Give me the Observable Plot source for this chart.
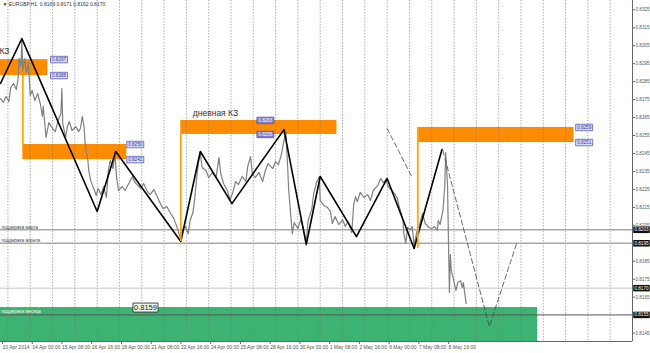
<!DOCTYPE html>
<html><head><meta charset="utf-8">
<script src="https://cdn.jsdelivr.net/npm/d3@7"></script>
<script src="https://cdn.jsdelivr.net/npm/@observablehq/plot@0.6"></script>
<style>html,body{margin:0;padding:0;background:#fff}svg{display:block}</style>
</head><body><div id="chart"></div>
<script>
// ---- data (x = H1 bar index from 14 Apr 2014 00:00, y = EURGBP price) ----
const priceIdx = [-32,-29,-26,-23,-21,-18,-15,-13,-12,-10,-9,-8,-6,-4,-2,0,2,5,8,11,13,14,17,20,24,27,30,33,34,35,38,40,42,45,49,52,54,56,58,59,62,63,65,68,71,73,76,79,82,84,86,89,91,93,95,99,102,106,110,112,115,119,122,126,129,133,137,140,143,147,151,154,157,160,162,164,167,170,172,175,177,179,181,183,185,189,192,196,200,203,205,208,212,215,218,221,224,228,232,234,237,239,242,246,250,253,256,261,264,267,270,273,275,277,278,280,282,284,288,291,294,297,299,303,305,308,311,312,316,320,323,325,328,332,336,339,342,346,348,350,352,355,359,363,366,369,374,377,380,383,385,389,392,395,397,401,402,404,406,409,411,413,416,419,422,425,429,432,435,438,439,441,444,445,446,447,449,450,451,452,453,455,458,460,463,465,466,468,469];
const priceVal = [0.82756,0.82734,0.82767,0.82739,0.82817,0.82840,0.82806,0.82868,0.82979,0.82934,0.83074,0.82912,0.82979,0.82901,0.82957,0.82773,0.82801,0.82745,0.82784,0.82723,0.82656,0.82712,0.82539,0.82622,0.82589,0.82572,0.82634,0.82673,0.82812,0.82617,0.82539,0.82600,0.82628,0.82578,0.82600,0.82572,0.82589,0.82656,0.82595,0.82505,0.82411,0.82355,0.82299,0.82260,0.82216,0.82255,0.82221,0.82266,0.82205,0.82355,0.82411,0.82366,0.82450,0.82311,0.82244,0.82266,0.82244,0.82283,0.82322,0.82294,0.82277,0.82255,0.82283,0.82238,0.82221,0.82249,0.82205,0.82171,0.82143,0.82155,0.82116,0.82093,0.82054,0.82004,0.81971,0.82026,0.82043,0.82004,0.82077,0.82121,0.82199,0.82311,0.82400,0.82450,0.82372,0.82355,0.82316,0.82344,0.82316,0.82427,0.82338,0.82283,0.82244,0.82194,0.82233,0.82294,0.82277,0.82322,0.82294,0.82377,0.82433,0.82338,0.82316,0.82344,0.82294,0.82355,0.82394,0.82366,0.82405,0.82388,0.82439,0.82522,0.82572,0.82372,0.82255,0.82121,0.82004,0.82065,0.82032,0.82082,0.82032,0.81954,0.82077,0.82143,0.82227,0.82288,0.82322,0.82188,0.82160,0.82149,0.82127,0.82060,0.82099,0.82054,0.82082,0.82043,0.82071,0.82010,0.82166,0.82210,0.82182,0.82233,0.82205,0.82221,0.82188,0.82244,0.82272,0.82311,0.82288,0.82305,0.82266,0.82244,0.82227,0.82199,0.82155,0.82077,0.82004,0.81949,0.82038,0.82026,0.82043,0.81937,0.82015,0.82054,0.82116,0.82060,0.82038,0.82032,0.82043,0.82021,0.82077,0.82054,0.82132,0.82199,0.82266,0.82455,0.82272,0.81965,0.81676,0.81887,0.81798,0.81759,0.81687,0.81731,0.81742,0.81703,0.81731,0.81653,0.81614];

const zigIdx = [-32,-9,72,92,162,183,217,273,297,312,351,384,413,443];
const zigVal = [0.82840,0.83090,0.82127,0.82461,0.81960,0.82461,0.82171,0.82583,0.81943,0.82322,0.81987,0.82311,0.81921,0.82472];

const dash1Idx = [384,411];
const dash1Val = [0.82589,0.82316];
const dash2Idx = [444,494,524];
const dash2Val = [0.82467,0.81486,0.81960];

// orange control zones
const zoneX1 = [-32,-8,162,418];
const zoneX2 = [19,104,330,585];
const zoneTop = [0.82973,0.82500,0.82634,0.82595];
const zoneBottom = [0.82884,0.82416,0.82556,0.82511];
const zoneLabelIdx = [31,113,253,596];
const zoneTopLabel = ["0.8297","0.8250","0.8263","0.8259"];
const zoneBottomLabel = ["0.8288","0.8242","0.8256","0.8251"];
const zoneLabelInside = [false,false,true,false];

// orange vertical connectors
const vIdx = [-8,162,417];
const vTop = [0.82884,0.82556,0.82595];
const vBottom = [0.82498,0.81960,0.81921];

// horizontal supports
const supLevels = [0.82025,0.81950];
const supNames = ["поддержка марта","поддержка апреля"];
const bidLevel = 0.81700;
const greenX1 = -32, greenX2 = 546, greenTop = 0.81592, greenLine = 0.81551;
const greenName = "поддержка месяца";
const greenLabel = "0.8159";
const greenLabelIdx = 124;

const axisMarkVals = [0.82025,0.81950,0.81700,0.81551];
const axisMarkText = ["0.8203","0.8195","0.8170","0.8155"];

const yTicks = [0.8325,0.8315,0.8305,0.8295,0.8285,0.8275,0.8265,0.8255,0.8245,0.8235,0.8225,0.8215,0.8205,0.8185,0.8175,0.8165,0.8145];
const dateIdx = [-32,0,32,64,96,128,160,192,224,256,288,320,352,384,416,448];
const dateLabels = ["10 Apr 2014","14 Apr 00:00","15 Apr 08:00","16 Apr 16:00","18 Apr 00:00","21 Apr 08:00","22 Apr 16:00","24 Apr 00:00","25 Apr 08:00","28 Apr 16:00","30 Apr 00:00","1 May 08:00","2 May 16:00","6 May 00:00","7 May 08:00","8 May 16:00"];
const dayIdx = [-24,0,24,48,72,96,120,144,168,192,216,240,264,288,312,336,360,384,408,432,456,480,504,528,552,576,600,624];

const header = "▼ EURGBP,H1  0.8169 0.8171 0.8162 0.8170";

// ---- tables ----
const price = priceIdx.map((x,i)=>({x, y: priceVal[i]})).filter(d=>d.y!==undefined);
const zig = zigIdx.map((x,i)=>({x, y: zigVal[i]}));
const dash1 = dash1Idx.map((x,i)=>({x, y: dash1Val[i]}));
const dash2 = dash2Idx.map((x,i)=>({x, y: dash2Val[i]}));
const zones = zoneX1.map((x1,i)=>({x1, x2: zoneX2[i], y1: zoneBottom[i], y2: zoneTop[i]}));
const zLabels = zoneLabelIdx.flatMap((x,i)=>[
  {x, y: zoneTop[i], t: zoneTopLabel[i], inside: zoneLabelInside[i]},
  {x, y: zoneBottom[i], t: zoneBottomLabel[i], inside: zoneLabelInside[i]}]);
const verts = vIdx.map((x,i)=>({x, y1: vBottom[i], y2: vTop[i]}));
const axMarks = axisMarkVals.map((y,i)=>({y, t: axisMarkText[i]}));
const sups = supLevels.map((y,i)=>({y, t: supNames[i]}));

const X0 = -32, X1 = 648, Y0 = 0.81403, Y1 = 0.83302;
const box = (w,h) => ({draw(ctx){ctx.moveTo(-w/2,-h/2);ctx.lineTo(w/2,-h/2);ctx.lineTo(w/2,h/2);ctx.lineTo(-w/2,h/2);ctx.closePath();}});
const FONT = "'Liberation Sans', Arial, sans-serif";

const chart = Plot.plot({
  width: 650, height: 353,
  marginLeft: 0, marginRight: 18, marginTop: 0, marginBottom: 12,
  x: {domain: [X0, X1]},
  y: {domain: [Y0, Y1]},
  style: {fontFamily: FONT, background: "#fff", overflow: "visible"},
  marks: [
    // green monthly support zone
    Plot.rect([{x1: greenX1, x2: greenX2, y1: Y0, y2: greenTop}], {x1: "x1", x2: "x2", y1: "y1", y2: "y2", fill: "#3cb371"}),
    // orange zones
    Plot.rect(zones, {x1: "x1", x2: "x2", y1: "y1", y2: "y2", fill: "#ff8c00"}),
    // day separators
    Plot.ruleX(dayIdx, {stroke: "#777", strokeWidth: 0.7, strokeDasharray: "1.5,1.5", strokeOpacity: 0.85}),
    // support lines
    Plot.ruleY(supLevels, {stroke: "#a9a9a9", strokeWidth: 1.5}),
    Plot.text(sups, {x: X0, y: "y", text: "t", textAnchor: "start", dx: 1, dy: -2.5, fontSize: 4.5, fill: "#444"}),
    Plot.ruleY([bidLevel], {stroke: "#c8c8c8", strokeWidth: 1}),
    Plot.ruleY([greenLine], {stroke: "#555", strokeWidth: 1.2, strokeOpacity: 0.8}),
    Plot.text([{y: greenLine, t: greenName}], {x: X0, y: "y", text: "t", textAnchor: "start", dx: 1, dy: -3, fontSize: 4.5, fill: "#eaffea"}),
    // price line
    Plot.line(price, {x: "x", y: "y", stroke: "#808080", strokeWidth: 1.2}),
    // zigzag
    Plot.line(zig, {x: "x", y: "y", stroke: "#000", strokeWidth: 1.6}),
    // projections
    Plot.line(dash1, {x: "x", y: "y", stroke: "#444", strokeWidth: 0.8, strokeDasharray: "5,3"}),
    Plot.line(dash2, {x: "x", y: "y", stroke: "#444", strokeWidth: 0.8, strokeDasharray: "5,3"}),
    // orange connectors
    Plot.ruleX(verts, {x: "x", y1: "y1", y2: "y2", stroke: "#ffa500", strokeWidth: 1.8}),
    // zone labels
    Plot.dot(zLabels, {x: "x", y: "y", r: 3, symbol: box(17,6.5), fill: d=>d.inside ? "#7b7bc9" : "#dcdcf7", stroke: "#5a5ab4", strokeWidth: 0.8}),
    Plot.text(zLabels, {x: "x", y: "y", text: "t", fontSize: 4.6, fill: d=>d.inside ? "#fff" : "#3232a8"}),
    // titles
    Plot.text([{x: 162, y: 0.82634, t: "дневная КЗ"}], {x: "x", y: "y", text: "t", textAnchor: "start", dx: 12, dy: -7, fontSize: 8.5, fill: "#333"}),
    Plot.text([{x: X0, y: 0.82973, t: "КЗ"}], {x: "x", y: "y", text: "t", textAnchor: "end", dx: 9, dy: -8, fontSize: 8.5, fill: "#333"}),
    Plot.dot([{x: greenLabelIdx, y: greenTop}], {x: "x", y: "y", r: 3, symbol: box(25,9), fill: "#e9f7ee", stroke: "#222", strokeWidth: 0.8}),
    Plot.text([{x: greenLabelIdx, y: greenTop, t: greenLabel}], {x: "x", y: "y", text: "t", fontSize: 7.5, fill: "#222"}),
    Plot.text([header], {frameAnchor: "top-left", dx: 2, dy: 2, fontSize: 5, fill: "#333"}),
    // axes
    Plot.ruleX([X1], {stroke: "#666", strokeWidth: 1}),
    Plot.ruleY([Y0], {stroke: "#666", strokeWidth: 1}),
    Plot.axisY({anchor: "right", ticks: yTicks, tickFormat: d=>d.toFixed(4), tickSize: 2, tickPadding: 1, fontSize: 4.6, fill: "#555", stroke: "#666", label: null}),
    Plot.dot(axMarks, {x: X1, y: "y", r: 3, dx: 9, symbol: box(16.5,6.5), fill: "#111", stroke: "none"}),
    Plot.text(axMarks, {x: X1, y: "y", text: "t", dx: 9, fontSize: 4.6, fill: "#fff"}),
    Plot.axisX({anchor: "bottom", ticks: dateIdx, tickFormat: d=>dateLabels[dateIdx.indexOf(d)], tickSize: 3, tickPadding: 1, textAnchor: "start", dx: 2, fontSize: 5, fill: "#555", stroke: "#666", label: null})
  ]
});
document.getElementById("chart").appendChild(chart);
</script>
</body></html>
